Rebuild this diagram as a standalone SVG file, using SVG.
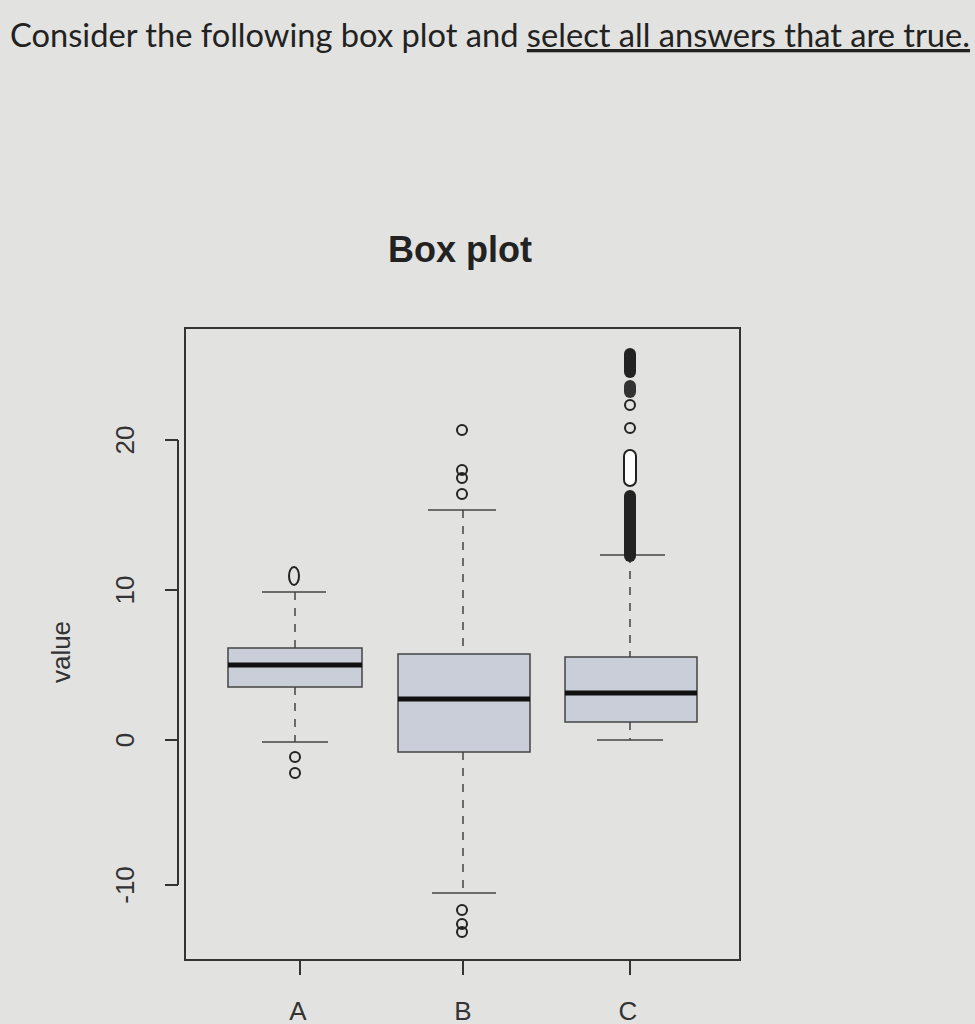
<svg xmlns="http://www.w3.org/2000/svg" width="975" height="1024" viewBox="0 0 975 1024">
<style>
.ax{stroke:#333;stroke-width:2;fill:none}
.box{fill:#c9ced8;stroke:#444;stroke-width:1.5}
.med{stroke:#111;stroke-width:5}
.wh{stroke:#444;stroke-width:1.5;stroke-dasharray:8 8}
.cap{stroke:#444;stroke-width:1.5}
.out{fill:none;stroke:#222;stroke-width:2}
.tl{font-family:"Liberation Sans",Arial,sans-serif;font-size:26px;fill:#333}
</style>
<rect width="975" height="1024" fill="#e2e2e0"/>
<text x="10" y="47" textLength="960" lengthAdjust="spacingAndGlyphs" font-family="Lato,'Liberation Sans',sans-serif" font-size="33" fill="#222">Consider the following box plot and <tspan text-decoration="underline">select all answers that are true.</tspan></text>
<text x="460" y="262" text-anchor="middle" font-family="'Liberation Sans',Arial,sans-serif" font-weight="bold" font-size="36" fill="#222">Box plot</text>
<g id="frame"><rect x="185" y="328" width="555" height="632" class="ax"/></g>
<g id="yaxis">
<line x1="178" y1="440" x2="178" y2="885" class="ax"/>
<line x1="165" y1="440" x2="178" y2="440" class="ax"/>
<line x1="165" y1="590" x2="178" y2="590" class="ax"/>
<line x1="165" y1="740" x2="178" y2="740" class="ax"/>
<line x1="165" y1="885" x2="178" y2="885" class="ax"/>
<text class="tl" transform="translate(134,440) rotate(-90)" text-anchor="middle">20</text>
<text class="tl" transform="translate(134,590) rotate(-90)" text-anchor="middle">10</text>
<text class="tl" transform="translate(134,740) rotate(-90)" text-anchor="middle">0</text>
<text class="tl" transform="translate(134,885) rotate(-90)" text-anchor="middle">-10</text>
<text class="tl" transform="translate(70,652) rotate(-90)" text-anchor="middle">value</text>
</g>
<g id="xaxis">
<line x1="300" y1="960" x2="630" y2="960" class="ax"/>
<line x1="300" y1="960" x2="300" y2="975" class="ax"/>
<line x1="463" y1="960" x2="463" y2="975" class="ax"/>
<line x1="630" y1="960" x2="630" y2="975" class="ax"/>
<text class="tl" x="298" y="1020" text-anchor="middle">A</text>
<text class="tl" x="463" y="1020" text-anchor="middle">B</text>
<text class="tl" x="628" y="1020" text-anchor="middle">C</text>
</g>
<g id="boxA">
<line x1="295" y1="592" x2="295" y2="648" class="wh"/>
<line x1="295" y1="687" x2="295" y2="742" class="wh"/>
<line x1="262" y1="592" x2="326" y2="592" class="cap"/>
<line x1="262" y1="742" x2="328" y2="742" class="cap"/>
<rect x="228" y="648" width="134" height="39" class="box"/>
<line x1="228" y1="665" x2="362" y2="665" class="med"/>
<ellipse cx="294" cy="576" rx="5" ry="9" class="out" stroke-width="4"/>
<circle cx="295" cy="757" r="5" class="out"/>
<circle cx="295" cy="773" r="5" class="out"/>
</g>
<g id="boxB">
<line x1="463" y1="510" x2="463" y2="654" class="wh"/>
<line x1="463" y1="752" x2="463" y2="893" class="wh"/>
<line x1="428" y1="510" x2="496" y2="510" class="cap"/>
<line x1="432" y1="893" x2="496" y2="893" class="cap"/>
<rect x="398" y="654" width="132" height="98" class="box"/>
<line x1="398" y1="699" x2="530" y2="699" class="med"/>
<circle cx="462" cy="494" r="5" class="out"/>
<circle cx="462" cy="478" r="5" class="out"/>
<circle cx="462" cy="470" r="5" class="out" stroke-width="3"/>
<circle cx="462" cy="430" r="5" class="out"/>
<circle cx="462" cy="910" r="5" class="out"/>
<circle cx="462" cy="924" r="5" class="out"/>
<circle cx="462" cy="932" r="5" class="out"/>
</g>
<g id="boxC">
<line x1="630" y1="555" x2="630" y2="657" class="wh"/>
<line x1="630" y1="722" x2="630" y2="740" class="wh"/>
<line x1="600" y1="555" x2="665" y2="555" class="cap"/>
<line x1="597" y1="740" x2="663" y2="740" class="cap"/>
<rect x="565" y="657" width="132" height="65" class="box"/>
<line x1="565" y1="693" x2="697" y2="693" class="med"/>
<rect x="624" y="490" width="12" height="72" rx="6" fill="#222"/>
<rect x="624" y="450" width="12" height="36" rx="6" fill="#fff" stroke="#222" stroke-width="2"/>
<circle cx="630" cy="428" r="5" class="out"/>
<circle cx="630" cy="405" r="5" class="out"/>
<rect x="624" y="380" width="12" height="18" rx="6" fill="#333"/>
<rect x="624" y="348" width="12" height="30" rx="6" fill="#222"/>
</g>
</svg>
